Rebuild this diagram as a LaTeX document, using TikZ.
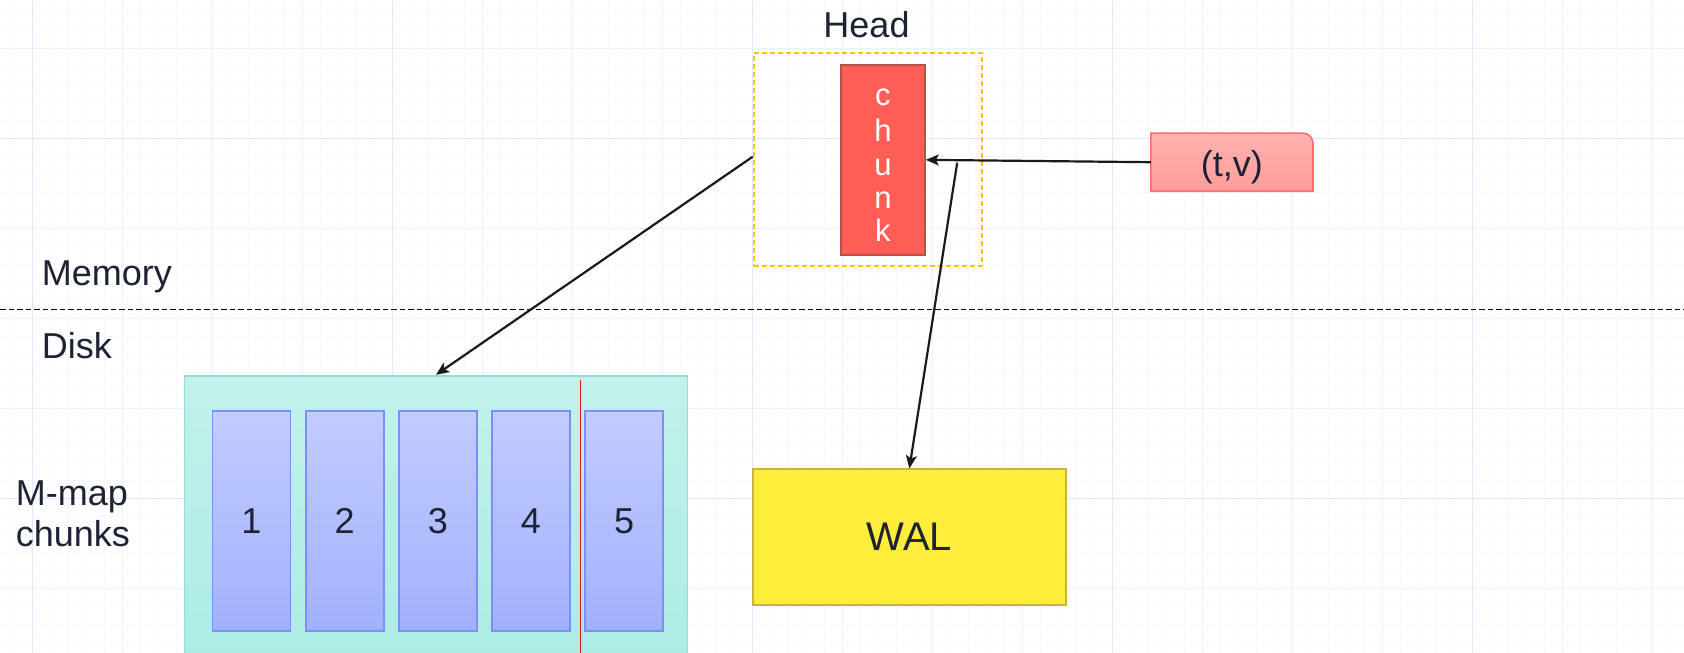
\documentclass[tikz,border=0pt]{standalone}
\usepackage{fontspec}
\setmainfont{Liberation Sans}
\usetikzlibrary{arrows.meta}

\definecolor{ink}{HTML}{1E2235}
\definecolor{wire}{HTML}{1A1A1A}
\definecolor{gridminor}{HTML}{F5F8FE}
\definecolor{gridmajor}{HTML}{EBF1FD}
\definecolor{gridstrong}{HTML}{E0EAFC}
\definecolor{headline}{HTML}{FFC000}
\definecolor{chunkfill}{HTML}{FF5E57}
\definecolor{chunkline}{HTML}{B8504B}
\definecolor{tvtop}{HTML}{FFB2B0}
\definecolor{tvbot}{HTML}{FF9D9A}
\definecolor{tvline}{HTML}{FF6B6B}
\definecolor{walfill}{HTML}{FFEC3B}
\definecolor{walline}{HTML}{C8B43B}
\definecolor{mmtop}{HTML}{C3F1EB}
\definecolor{mmbot}{HTML}{A9ECE4}
\definecolor{mmline}{HTML}{8CE0D6}
\definecolor{pgtop}{HTML}{C2CCFF}
\definecolor{pgbot}{HTML}{A2B1FD}
\definecolor{pgline}{HTML}{7D8FF7}
\definecolor{cutred}{HTML}{F01010}

\begin{document}
\begin{tikzpicture}[x=1pt,y=-1pt,
  txt/.style={text=ink,font=\fontsize{36}{40}\selectfont,inner sep=0pt},
  arr/.style={draw=wire,line width=2.2pt,-{Stealth[length=13pt,width=11pt,inset=3pt]}},
  headbox/.style={draw=headline,line width=1.8pt,dash pattern=on 5pt off 3pt,
    minimum width=228.4pt,minimum height=212.4pt,inner sep=0pt},
  chunkbox/.style={draw=chunkline,fill=chunkfill,line width=1.6pt,
    minimum width=84.2pt,minimum height=190.3pt,inner sep=0pt},
  chunkletter/.style={text=white,font=\fontsize{31}{34}\selectfont,inner sep=0pt,anchor=base},
  tvbox/.style={minimum width=161.7pt,minimum height=57.7pt,inner sep=0pt,
    text height=29.4pt,text depth=0pt,text=ink,font=\fontsize{36}{40}\selectfont},
  tvshape/.style={draw=tvline,line width=1.6pt,top color=tvtop,bottom color=tvbot},
  walbox/.style={draw=walline,fill=walfill,line width=1.8pt,
    minimum width=313.3pt,minimum height=135.4pt,inner sep=0pt,
    text=ink,font=\fontsize{40}{44}\selectfont},
  mmapbox/.style={draw=mmline,line width=1.8pt,top color=mmtop,bottom color=mmbot,
    minimum width=503.1pt,minimum height=300pt,inner sep=0pt},
  pagebox/.style={draw=pgline,line width=1.8pt,top color=pgtop,bottom color=pgbot,
    minimum width=78pt,minimum height=220.3pt,inner sep=0pt,
    text=ink,font=\fontsize{36}{40}\selectfont},
  divider/.style={draw=black,line width=1.6pt,dash pattern=on 5.5pt off 3pt},
  cutline/.style={draw=cutred,line width=1.8pt}
]
\useasboundingbox (0,0) rectangle (1684,653);
\clip (0,0) rectangle (1684,653);
\fill[white] (0,0) rectangle (1684,653);

% background grid
\foreach \x in {14.6,32.6,...,1690} \draw[gridminor,line width=0.8pt] (\x,0) -- (\x,653);
\foreach \y in {12.7,30.7,...,660} \draw[gridminor,line width=0.8pt] (0,\y) -- (1684,\y);
\foreach \x in {32.6,122.6,...,1690} \draw[gridmajor,line width=1pt] (\x,0) -- (\x,653);
\foreach \y in {48.7,138.7,...,660} \draw[gridmajor,line width=1pt] (0,\y) -- (1684,\y);
\foreach \x in {32.6,392.6,...,1690} \draw[gridstrong,line width=1pt] (\x,0) -- (\x,653);
\foreach \y in {138.7,498.7} \draw[gridstrong,line width=1pt] (0,\y) -- (1684,\y);

% memory / disk boundary
\coordinate (divL) at (0,309.3);
\coordinate (divR) at (1684,309.3);
\draw[divider] (divL) -- (divR);

% side labels
\node[txt,anchor=base west] (memlbl) at (41.7,285) {Memory};
\node[txt,anchor=base west] (disklbl) at (41.7,358.3) {Disk};
\node[txt,anchor=base west] (mmlbl1) at (15.6,505) {M-map};
\node[txt,anchor=base west] (mmlbl2) at (15.6,546.7) {chunks};

% head chunk in memory
\node[headbox] (head) at (867.8,159.5) {};
\node[txt,anchor=base] (headlbl) at (866.5,37.3) {Head};
\node[chunkbox] (chunk) at (882.9,159.85) {};
\node[chunkletter] (cl1) at (882.9,105) {c};
\node[chunkletter] (cl2) at (882.9,141) {h};
\node[chunkletter] (cl3) at (882.9,175) {u};
\node[chunkletter] (cl4) at (882.9,208) {n};
\node[chunkletter] (cl5) at (882.9,241.7) {k};

% incoming sample
\node[tvbox] (tv) at (1231.9,162.2) {};
\path[tvshape] (tv.south west) -- (tv.north west) -- ([xshift=-10pt]tv.north east)
  arc[start angle=90,end angle=0,radius=10pt] -- (tv.south east) -- cycle;
\node[tvbox] (tvtext) at (tv.center) {(t,v)};

% memory-mapped chunks on disk
\node[mmapbox] (mmap) at (436,525.7) {};
\foreach \i in {1,...,5} {
  \node[pagebox] (pg\i) at ({251.5+93.15*(\i-1)},520.85) {\i};
}
\coordinate (cutTop) at (580.4,380);
\coordinate (cutBot) at (580.4,660);
\draw[cutline] (cutTop) -- (cutBot);

% write-ahead log
\node[walbox] (wal) at (909.35,537) {WAL};

% connectors
\coordinate (tap) at (957.2,162.7);
\draw[arr] (tv.west) -- (chunk.east);
\draw[arr] ([yshift=2.8pt]head.west) -- (mmap.north);
\draw[arr] (tap) -- (wal.north);
\end{tikzpicture}
\end{document}
